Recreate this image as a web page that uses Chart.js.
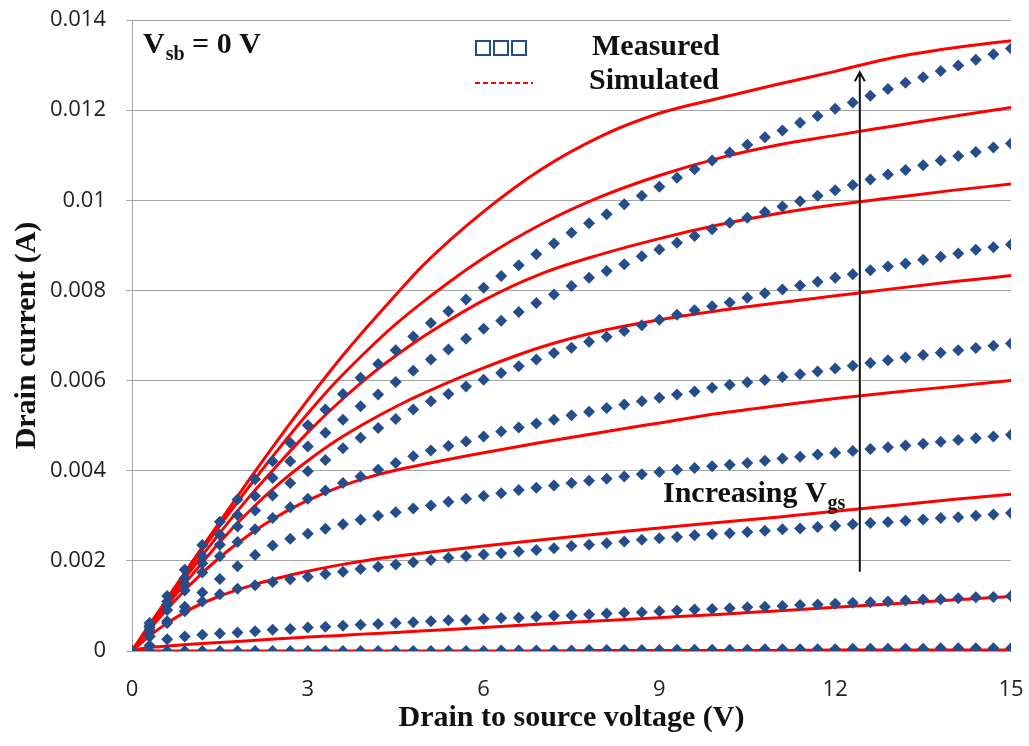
<!DOCTYPE html>
<html lang="en">
<head>
    <meta charset="UTF-8">
    <title>Drain current vs drain to source voltage</title>
    <script src="https://cdn.jsdelivr.net/npm/chart.js"></script>
    <style>
        body { margin: 0; background: #fff; }
        canvas { display: block; }
    </style>
</head>
<body>
    <canvas id="ivChart" width="1029" height="746"></canvas>

    <script>
        // Drain to source voltage (V) of each measured sample
        const vdsMeasured = [0, 0.3, 0.6, 0.9, 1.2, 1.5, 1.8, 2.1, 2.4, 2.7,
            3, 3.3, 3.6, 3.9, 4.2, 4.5, 4.8, 5.1, 5.4, 5.7,
            6, 6.3, 6.6, 6.9, 7.2, 7.5, 7.8, 8.1, 8.4, 8.7,
            9, 9.3, 9.6, 9.9, 10.2, 10.5, 10.8, 11.1, 11.4, 11.7,
            12, 12.3, 12.6, 12.9, 13.2, 13.5, 13.8, 14.1, 14.4, 14.7, 15];

        // Measured drain current in mA, lowest Vgs first
        const meas0 = [0, 0, 0, 0, 0, 0, 0, 0, 0, 0, 0, 0, 0, 0, 0, 0, 0, 0, 0, 0,
            0, 0.01, 0.01, 0.01, 0.01, 0.01, 0.02, 0.02, 0.02, 0.02, 0.02, 0.03, 0.03, 0.03, 0.03,
            0.03, 0.04, 0.04, 0.04, 0.04, 0.04, 0.05, 0.05, 0.05, 0.05, 0.05, 0.06, 0.06, 0.06, 0.06, 0.06];
        const meas1 = [0, 0.12, 0.26, 0.32, 0.36, 0.39, 0.41, 0.44, 0.47, 0.49, 0.52, 0.54, 0.56, 0.58, 0.60,
            0.62, 0.64, 0.66, 0.68, 0.69, 0.71, 0.73, 0.74, 0.76, 0.78, 0.79, 0.81, 0.83, 0.85, 0.86,
            0.88, 0.90, 0.92, 0.93, 0.95, 0.97, 0.98, 1.00, 1.02, 1.03, 1.05, 1.07, 1.08, 1.10, 1.12,
            1.14, 1.15, 1.17, 1.19, 1.20, 1.22];
        const meas2 = [0, 0.32, 0.62, 0.88, 1.10, 1.26, 1.38, 1.46, 1.53, 1.59, 1.65, 1.71, 1.76, 1.82, 1.87,
            1.92, 1.97, 2.02, 2.07, 2.10, 2.14, 2.17, 2.21, 2.24, 2.28, 2.33, 2.36, 2.39, 2.43, 2.47,
            2.50, 2.53, 2.57, 2.59, 2.61, 2.64, 2.67, 2.70, 2.72, 2.75, 2.78, 2.81, 2.84, 2.86, 2.89,
            2.92, 2.95, 2.97, 3.00, 3.03, 3.06];
        const meas3 = [0, 0.33, 0.66, 0.98, 1.30, 1.60, 1.88, 2.13, 2.34, 2.49, 2.60, 2.71, 2.81, 2.91, 3.00,
            3.08, 3.16, 3.23, 3.31, 3.38, 3.44, 3.50, 3.57, 3.62, 3.67, 3.73, 3.78, 3.82, 3.87, 3.92,
            3.97, 4.02, 4.06, 4.10, 4.13, 4.17, 4.22, 4.27, 4.31, 4.36, 4.40, 4.44, 4.48, 4.52, 4.56,
            4.60, 4.64, 4.68, 4.72, 4.76, 4.80];
        const meas4 = [0, 0.46, 0.91, 1.34, 1.74, 2.10, 2.42, 2.70, 2.95, 3.19, 3.38, 3.56, 3.73, 3.87, 4.02,
            4.17, 4.32, 4.45, 4.55, 4.65, 4.76, 4.87, 4.96, 5.05, 5.13, 5.23, 5.31, 5.39, 5.47, 5.54,
            5.62, 5.69, 5.76, 5.84, 5.91, 5.96, 6.01, 6.08, 6.14, 6.20, 6.27, 6.33, 6.39, 6.45, 6.51,
            6.57, 6.62, 6.67, 6.72, 6.77, 6.82];
        const meas5 = [0, 0.52, 1.02, 1.49, 1.94, 2.36, 2.76, 3.12, 3.45, 3.73, 3.99, 4.24, 4.50, 4.73, 4.95,
            5.15, 5.36, 5.54, 5.70, 5.87, 6.02, 6.17, 6.32, 6.47, 6.61, 6.73, 6.86, 6.97, 7.10, 7.23,
            7.35, 7.46, 7.56, 7.65, 7.73, 7.84, 7.94, 8.02, 8.11, 8.19, 8.28, 8.36, 8.45, 8.53, 8.60,
            8.68, 8.75, 8.82, 8.90, 8.96, 9.02];
        const meas6 = [0, 0.56, 1.10, 1.62, 2.11, 2.58, 3.02, 3.44, 3.84, 4.21, 4.54, 4.84, 5.13, 5.43, 5.69,
            5.97, 6.22, 6.47, 6.69, 6.93, 7.15, 7.33, 7.52, 7.72, 7.91, 8.10, 8.28, 8.43, 8.58, 8.76,
            8.91, 9.06, 9.21, 9.36, 9.50, 9.61, 9.74, 9.86, 9.98, 10.10, 10.22, 10.34, 10.46, 10.57, 10.67,
            10.78, 10.88, 10.98, 11.07, 11.17, 11.26];
        const meas7 = [0, 0.62, 1.22, 1.80, 2.35, 2.87, 3.36, 3.81, 4.21, 4.62, 5.01, 5.36, 5.70, 6.06, 6.37,
            6.67, 6.98, 7.28, 7.54, 7.80, 8.06, 8.32, 8.56, 8.80, 9.04, 9.28, 9.49, 9.69, 9.91, 10.10,
            10.30, 10.50, 10.69, 10.88, 11.06, 11.23, 11.40, 11.55, 11.72, 11.87, 12.03, 12.17, 12.32, 12.47, 12.61,
            12.73, 12.87, 12.99, 13.12, 13.24, 13.37];

        // Simulated curves (mA), sampled at these voltages
        const vdsSim = [0, 0.25, 0.5, 1, 1.5, 2, 2.5, 3, 3.5, 4, 4.5, 5, 6, 7, 8, 9, 10, 11, 12, 13, 14, 15];
        const sim0 = [0, 0, 0, 0, 0, 0, 0, 0, 0, 0, 0, 0, 0, 0, 0.01, 0.01, 0.01, 0.01, 0.02, 0.02, 0.02, 0.02];
        const sim1 = [0, 0.07, 0.10, 0.15, 0.19, 0.23, 0.27, 0.31, 0.34, 0.38, 0.41, 0.45, 0.52, 0.60, 0.67, 0.74, 0.81, 0.89, 0.97, 1.05, 1.13, 1.21];
        const sim2 = [0, 0.28, 0.53, 0.93, 1.22, 1.44, 1.62, 1.77, 1.90, 2.01, 2.10, 2.18, 2.33, 2.47, 2.60, 2.73, 2.85, 2.97, 3.10, 3.23, 3.36, 3.48];
        const sim3 = [0, 0.40, 0.78, 1.48, 2.08, 2.58, 3.00, 3.34, 3.62, 3.84, 4.01, 4.15, 4.40, 4.63, 4.85, 5.06, 5.27, 5.44, 5.60, 5.74, 5.87, 6.00];
        const sim4 = [0, 0.43, 0.85, 1.65, 2.42, 3.10, 3.70, 4.22, 4.68, 5.07, 5.42, 5.73, 6.28, 6.75, 7.10, 7.35, 7.55, 7.72, 7.88, 8.04, 8.19, 8.33];
        const sim5 = [0, 0.45, 0.90, 1.78, 2.62, 3.42, 4.15, 4.85, 5.48, 6.05, 6.55, 7.00, 7.78, 8.38, 8.80, 9.15, 9.45, 9.70, 9.90, 10.06, 10.22, 10.36];
        const sim6 = [0, 0.48, 0.95, 1.88, 2.78, 3.65, 4.48, 5.27, 6.00, 6.65, 7.25, 7.78, 8.72, 9.48, 10.08, 10.55, 10.93, 11.22, 11.44, 11.65, 11.86, 12.06];
        const sim7 = [0, 0.49, 0.97, 1.93, 2.87, 3.80, 4.70, 5.57, 6.40, 7.17, 7.90, 8.60, 9.75, 10.70, 11.42, 11.93, 12.26, 12.57, 12.86, 13.17, 13.38, 13.54];

        const yTicks = [0, 0.002, 0.004, 0.006, 0.008, 0.01, 0.012, 0.014];
        const xTicks = [0, 3, 6, 9, 12, 15];

        const measured = [meas0, meas1, meas2, meas3, meas4, meas5, meas6, meas7];
        const simulated = [sim0, sim1, sim2, sim3, sim4, sim5, sim6, sim7];

        const blue = '#254d8a';
        const red = '#ff0000';
        const serif = '"Liberation Serif", "Times New Roman", serif';
        const sans = '"Open Sans", "Noto Sans", sans-serif';

        // mA -> A points
        function toPoints(xs, ys) {
            return xs.map((v, i) => ({ x: v, y: ys[i] / 1000 }));
        }

        const datasets = [];
        measured.forEach(ys => datasets.push({
            data: toPoints(vdsMeasured, ys),
            showLine: false,
            pointStyle: 'rectRot',
            pointRadius: 6,
            pointBackgroundColor: blue,
            pointBorderWidth: 0
        }));
        simulated.forEach(ys => datasets.push({
            data: toPoints(vdsSim, ys),
            showLine: true,
            borderColor: red,
            borderWidth: 3,
            pointRadius: 0,
            cubicInterpolationMode: 'monotone'
        }));

        // text with a subscript part, e.g. V + sb + " = 0 V"
        function drawSubText(ctx, x, y, main, sub, rest, size) {
            ctx.font = `bold ${size}px ${serif}`;
            ctx.fillText(main, x, y);
            x += ctx.measureText(main).width;
            ctx.font = `bold ${Math.round(size * 0.68)}px ${serif}`;
            ctx.fillText(sub, x + 1, y + 7);
            x += ctx.measureText(sub).width + 1;
            if (rest) {
                ctx.font = `bold ${size}px ${serif}`;
                ctx.fillText(rest, x, y);
            }
        }

        const notes = {
            id: 'notes',
            afterDraw(chart) {
                const { ctx, scales: { x, y } } = chart;
                ctx.save();
                ctx.fillStyle = '#111';
                ctx.textBaseline = 'alphabetic';
                ctx.textAlign = 'left';

                drawSubText(ctx, 143, 53, 'V', 'sb', ' = 0 V', 30);

                // legend
                ctx.strokeStyle = blue;
                ctx.lineWidth = 2;
                for (let i = 0; i < 3; i++) {
                    ctx.strokeRect(476 + i * 18, 41, 14, 14);
                }
                ctx.strokeStyle = red;
                ctx.lineWidth = 2;
                ctx.setLineDash([5, 3]);
                ctx.beginPath();
                ctx.moveTo(475, 83);
                ctx.lineTo(533, 83);
                ctx.stroke();
                ctx.setLineDash([]);

                ctx.font = `bold 30px ${serif}`;
                ctx.fillText('Measured', 592, 55);
                ctx.fillText('Simulated', 589, 89);

                // Vgs arrow
                const ax = x.getPixelForValue(12.42);
                const y0 = y.getPixelForValue(0.00176);
                const y1 = y.getPixelForValue(0.01284);
                ctx.strokeStyle = '#111';
                ctx.lineWidth = 2;
                ctx.beginPath();
                ctx.moveTo(ax, y0);
                ctx.lineTo(ax, y1);
                ctx.moveTo(ax - 5, y1 + 9);
                ctx.lineTo(ax, y1);
                ctx.lineTo(ax + 5, y1 + 9);
                ctx.stroke();

                drawSubText(ctx, 663, 502, 'Increasing V', 'gs', '', 30);
                ctx.restore();
            }
        };

        new Chart(document.getElementById('ivChart'), {
            type: 'scatter',
            data: { datasets },
            plugins: [notes],
            options: {
                responsive: false,
                animation: false,
                layout: { padding: { top: 20, right: 18, left: 0, bottom: 0 } },
                plugins: { legend: { display: false }, tooltip: { enabled: false } },
                scales: {
                    x: {
                        type: 'linear',
                        min: 0,
                        max: 15,
                        afterFit: s => {
                            s.height = 95;
                            s.paddingLeft = 0;
                            s.paddingRight = 0;
                        },
                        afterBuildTicks: s => { s.ticks = xTicks.map(v => ({ value: v })); },
                        grid: { display: false, drawTicks: false },
                        border: { display: true, color: '#a6a6a6' },
                        ticks: { color: '#222', padding: 26, font: { family: sans, size: 22 } },
                        title: {
                            display: true,
                            text: 'Drain to source voltage (V)',
                            color: '#111',
                            padding: { top: 0, bottom: 10 },
                            font: { family: serif, size: 30, weight: 'bold' }
                        }
                    },
                    y: {
                        min: 0,
                        max: 0.014,
                        afterFit: s => {
                            s.width = 132;
                            s.paddingTop = 0;
                            s.paddingBottom = 0;
                        },
                        afterBuildTicks: s => { s.ticks = yTicks.map(v => ({ value: v })); },
                        grid: { color: '#a6a6a6', lineWidth: 1, tickLength: 6 },
                        border: { color: '#a6a6a6' },
                        ticks: {
                            color: '#222',
                            padding: 20,
                            font: { family: sans, size: 22 },
                            callback: v => String(+v.toFixed(3))
                        },
                        title: {
                            display: true,
                            text: 'Drain current (A)',
                            color: '#111',
                            padding: { top: 9, bottom: 0 },
                            font: { family: serif, size: 30, weight: 'bold' }
                        }
                    }
                }
            }
        });
    </script>
</body>
</html>
